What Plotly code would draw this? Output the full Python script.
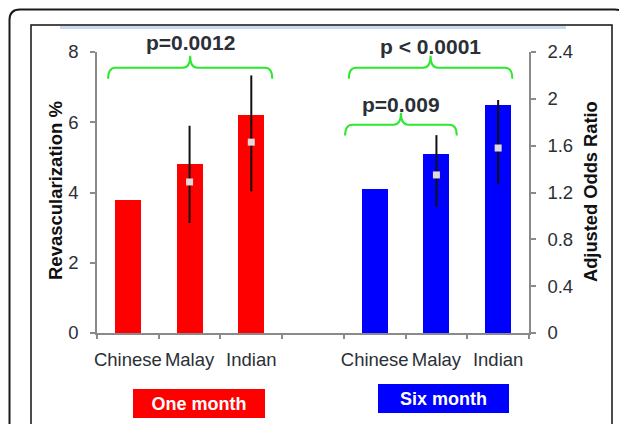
import plotly.graph_objects as go

# ---------------- data ----------------
categories = ["Chinese", "Malay", "Indian"]
period_labels = ["One month", "Six month"]

one_month_pct = [3.8, 4.8, 6.2]
six_month_pct = [4.1, 5.1, 6.5]

# adjusted odds ratios (Chinese = reference, not drawn)
or_groups = ["Malay", "Indian"]
one_month_or = [1.29, 1.63]
one_month_or_hi = [1.77, 2.20]
one_month_or_lo = [0.94, 1.21]
six_month_or = [1.35, 1.58]
six_month_or_hi = [1.69, 1.99]
six_month_or_lo = [1.08, 1.27]

y_ticks = [0, 2, 4, 6, 8]
y2_ticks = [0, 0.4, 0.8, 1.2, 1.6, 2, 2.4]

bracket_labels = ["p=0.0012", "p < 0.0001", "p=0.009"]
bracket_from = [-0.32, 3.58, 3.52]
bracket_to = [2.34, 6.23, 5.33]
bracket_level = [7.55, 7.55, 5.93]

# ---------------- layout helpers ----------------
OFF = 8                      # page body margin
W, H = 627 - OFF, 424 - OFF  # figure size
def px(x):
    return (x - OFF) / W
def py(y):
    return 1 - (y - OFF) / H

FONT = "Liberation Sans, Arial, sans-serif"
TXT = "#2b2f36"
AXC = "#8a8a8a"

n_slots = 7
x_one = [0, 1, 2]
x_six = [4, 5, 6]
x_of = {c: i for i, c in enumerate(categories)}

fig = go.Figure()

fig.add_trace(go.Bar(x=x_one, y=one_month_pct, width=0.42,
                     marker=dict(color="#ff0000", line=dict(width=0)),
                     name=period_labels[0], xaxis="x", yaxis="y"))
fig.add_trace(go.Bar(x=x_six, y=six_month_pct, width=0.42,
                     marker=dict(color="#0000ff", line=dict(width=0)),
                     name=period_labels[1], xaxis="x", yaxis="y"))

def or_trace(xs, v, hi, lo):
    return go.Scatter(
        x=xs, y=v, mode="markers", xaxis="x", yaxis="y2",
        marker=dict(symbol="square", size=7, color="#e2dada",
                    line=dict(width=0)),
        error_y=dict(type="data", symmetric=False,
                     array=[h - a for h, a in zip(hi, v)],
                     arrayminus=[a - l for a, l in zip(v, lo)],
                     thickness=2, width=0, color="#111111"),
        showlegend=False)

fig.add_trace(or_trace([x_one[x_of[g]] for g in or_groups], one_month_or, one_month_or_hi, one_month_or_lo))
fig.add_trace(or_trace([x_six[x_of[g]] for g in or_groups], six_month_or, six_month_or_hi, six_month_or_lo))

# invisible trace so the boundary-tick axis is drawn
fig.add_trace(go.Scatter(x=[0], y=[0], xaxis="x2", yaxis="y", mode="markers",
                         marker=dict(opacity=0), showlegend=False, hoverinfo="skip"))

xr = [-0.5, n_slots - 0.5]
x_dom = [px(97), px(529)]
y_dom = [py(333), py(52)]

shapes = []
annotations = []

# brackets
DROP, RISE, R = 0.31, 0.34, 0.12
offsets = [0, -4, -5]
for lab, a, b, lv, off in zip(bracket_labels, bracket_from, bracket_to, bracket_level, offsets):
    m = (a + b) / 2
    path = (f"M {a},{lv-DROP} Q {a},{lv} {a+R},{lv} L {m-R},{lv} "
            f"Q {m},{lv} {m},{lv+RISE} Q {m},{lv} {m+R},{lv} "
            f"L {b-R},{lv} Q {b},{lv} {b},{lv-DROP}")
    shapes.append(dict(type="path", path=path, xref="x", yref="y",
                       line=dict(color="#2ee82e", width=2)))
    annotations.append(dict(x=m, y=lv + RISE, xref="x", yref="y", text=f"<b>{lab}</b>",
                            showarrow=False, yanchor="bottom", xanchor="center", yshift=off,
                            font=dict(family=FONT, size=21, color=TXT)))

# frames
shapes.append(dict(type="path", xref="paper", yref="paper",
                   path=(f"M {px(9.5)},{py(440)} L {px(9.5)},{py(20)} Q {px(9.5)},{py(9.5)} {px(20)},{py(9.5)} "
                         f"L {px(615)},{py(9.5)} Q {px(626)},{py(9.5)} {px(626)},{py(20)} L {px(626)},{py(440)}"),
                   line=dict(color="#1a1a1a", width=2)))
shapes.append(dict(type="rect", xref="paper", yref="paper",
                   x0=px(31), x1=px(612), y0=py(440), y1=py(25),
                   line=dict(color="#111111", width=1.5)))
shapes.append(dict(type="line", xref="paper", yref="paper",
                   x0=px(60), x1=px(566), y0=py(27.5), y1=py(27.5),
                   line=dict(color="#c8d8f0", width=3)))

# axis titles
annotations.append(dict(x=px(55), y=py(191), xref="paper", yref="paper",
                        xanchor="center", yanchor="middle",
                        text="<b>Revascularization %</b>", textangle=-90, showarrow=False,
                        font=dict(family=FONT, size=18.5, color="#111")))
annotations.append(dict(x=px(590), y=py(192), xref="paper", yref="paper",
                        xanchor="center", yanchor="middle",
                        text="<b>Adjusted Odds Ratio</b>", textangle=-90, showarrow=False,
                        font=dict(family=FONT, size=18.3, color="#111")))

# period boxes
annotations.append(dict(x=px(199), y=py(403.5), xref="paper", yref="paper",
                        xanchor="center", yanchor="middle",
                        text=f"<b>{period_labels[0]}</b>", showarrow=False,
                        bgcolor="#ff0000", borderpad=4, borderwidth=0, width=124, height=21,
                        font=dict(family=FONT, size=18, color="white")))
annotations.append(dict(x=px(443.5), y=py(398.5), xref="paper", yref="paper",
                        xanchor="center", yanchor="middle",
                        text=f"<b>{period_labels[1]}</b>", showarrow=False,
                        bgcolor="#0000ff", borderpad=4, borderwidth=0, width=123, height=21,
                        font=dict(family=FONT, size=18, color="white")))

tick_font = dict(family=FONT, size=18.5, color=TXT)

fig.update_layout(
    template="none",
    width=W, height=H, autosize=False,
    margin=dict(l=0, r=0, t=0, b=0, pad=0, autoexpand=False),
    paper_bgcolor="white", plot_bgcolor="white",
    showlegend=False, bargap=0,
    xaxis=dict(domain=x_dom, range=xr, anchor="y", automargin=False,
               tickvals=x_one + x_six, ticktext=categories + categories,
               ticks="", showline=True, linecolor=AXC, linewidth=1.5,
               showgrid=False, zeroline=False, tickfont=dict(family=FONT, size=18.5, color=TXT),
               ticklabelstandoff=9),
    xaxis2=dict(overlaying="x", range=xr, anchor="y", side="bottom", automargin=False,
                tickvals=[i - 0.5 for i in range(n_slots + 1)],
                ticks="outside", ticklen=5, tickcolor=AXC, tickwidth=1.5,
                showticklabels=False, showline=False, showgrid=False, zeroline=False),
    yaxis=dict(domain=y_dom, range=[0, 8], tickvals=y_ticks, anchor="x", automargin=False,
               ticks="outside", ticklen=5, tickcolor=AXC, tickwidth=1.5,
               showline=True, linecolor=AXC, linewidth=1.5,
               showgrid=False, zeroline=False, tickfont=tick_font, ticklabelstandoff=8),
    yaxis2=dict(overlaying="y", side="right", range=[0, 2.4], tickvals=y2_ticks,
                anchor="x", automargin=False, ticks="outside", ticklen=5, tickcolor=AXC, tickwidth=1.5,
                showline=True, linecolor=AXC, linewidth=1.5,
                showgrid=False, zeroline=False, tickfont=tick_font, ticklabelstandoff=8),
    shapes=shapes, annotations=annotations,
)

fig.write_html("out.html")
